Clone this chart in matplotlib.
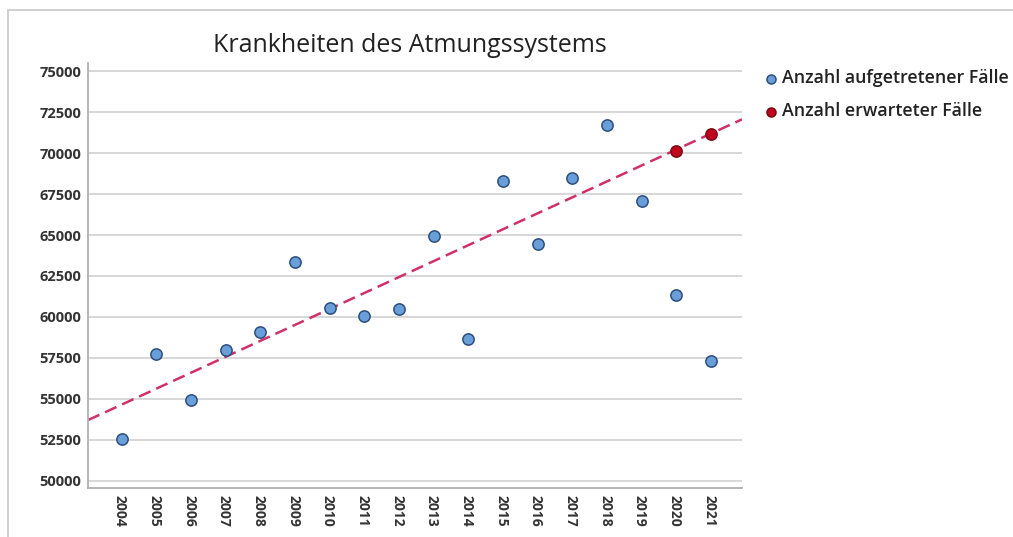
import matplotlib.pyplot as plt
import matplotlib.patches as mpatches
import numpy as np

# observed cases per year
years = [2004, 2005, 2006, 2007, 2008, 2009, 2010, 2011, 2012,
         2013, 2014, 2015, 2016, 2017, 2018, 2019, 2020, 2021]
observed = [52560, 57740, 54940, 57990, 59080, 63350, 60550, 60060, 60490,
            64940, 58660, 68290, 64450, 68480, 71710, 67070, 61340, 57320]

# expected cases (from the trend)
exp_years = [2020, 2021]
expected = [70120, 71160]

# trend is fitted on the pre-pandemic years
fit_years = years[:16]
fit_vals = observed[:16]

yticks = [50000, 52500, 55000, 57500, 60000, 62500, 65000, 67500, 70000, 72500, 75000]

plt.rcParams['font.family'] = ['Open Sans', 'DejaVu Sans']

fig = plt.figure(figsize=(10.13, 5.37), dpi=100)
ax = fig.add_axes([0.0869, 0.0912, 0.6456, 0.7915])

# thin frame around the whole chart
fig.patches.append(mpatches.Rectangle((8/1013, -0.02), 1.1, 1 - 10/537 + 0.02,
                                      transform=fig.transFigure, fill=False,
                                      edgecolor='#c8c8c8', linewidth=1.2))

xlim = (2003.08, 2021.95)
ax.set_xlim(xlim)
ax.set_ylim(49570, 75490)

# gridlines
for t in yticks:
    ax.axhline(t, color='#d4d4d4', linewidth=1.3, zorder=0)

# trend line
slope, icept = np.polyfit(fit_years, fit_vals, 1)
tx = np.array(xlim)
ax.plot(tx, slope * tx + icept, color='#d0306a', linestyle=(0, (5, 2.5)),
        linewidth=1.8, zorder=2)

ax.scatter(np.array(years) + 0.05, observed, s=66, color='#6a9ed9',
           edgecolor='#2d4f7c', linewidth=1.1, zorder=3,
           label='Anzahl aufgetretener Fälle')
ax.scatter(np.array(exp_years) + 0.05, expected, s=66, color='#c0061f',
           edgecolor='#7a0a14', linewidth=1.1, zorder=4,
           label='Anzahl erwarteter Fälle')

ax.set_yticks(yticks)
ax.set_yticklabels([str(t) for t in yticks], fontsize=10.5, fontweight='bold',
                   color='#333333')
ax.set_xticks(years)
ax.set_xticklabels([str(y) for y in years], rotation=270, fontsize=10,
                   fontweight='bold', color='#333333')
ax.tick_params(length=0, pad=5)

for s in ['top', 'right']:
    ax.spines[s].set_visible(False)
for s in ['left', 'bottom']:
    ax.spines[s].set_color('#b0b0b0')
    ax.spines[s].set_linewidth(1.3)

fig.text(0.405, 0.915, 'Krankheiten des Atmungssystems', ha='center',
         va='center', fontsize=18, color='#222222')

ax.legend(loc='upper left', bbox_to_anchor=(1.022, 1.002), frameon=False,
          handletextpad=0.25, labelspacing=0.85, markerscale=0.8,
          prop={'weight': 'semibold', 'size': 12.8}, borderaxespad=0,
          handlelength=0.8, labelcolor='#222222')

plt.savefig('out.png', dpi=100)
